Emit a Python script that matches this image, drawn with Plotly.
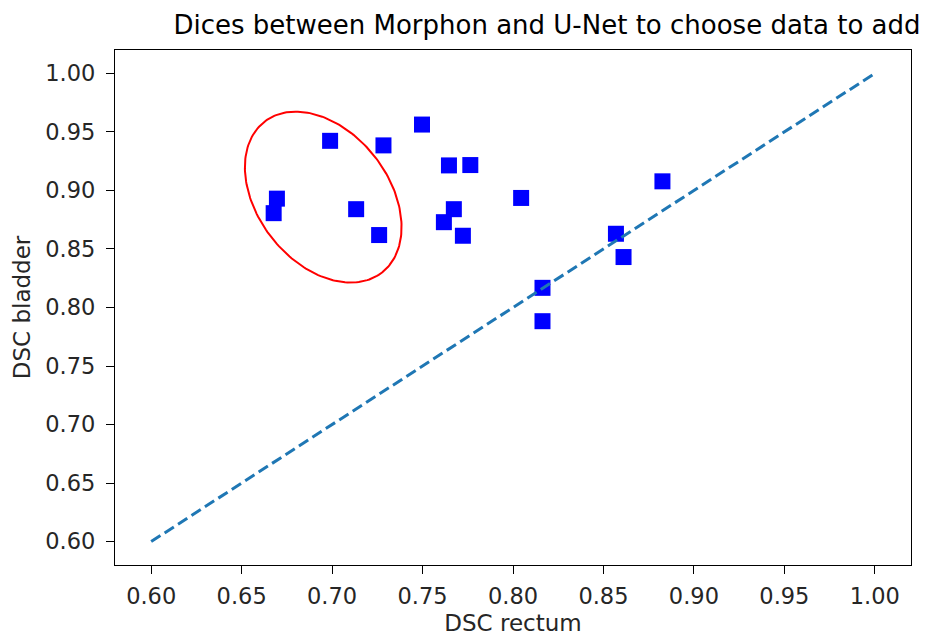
import numpy as np
import plotly.graph_objects as go

# Data
dsc_rectum = [0.6677, 0.6695, 0.6989, 0.7133, 0.7260, 0.7284, 0.7497, 0.7618, 0.7646,
              0.7673, 0.7723, 0.7764, 0.8045, 0.8163, 0.8163, 0.8569, 0.8611, 0.8826]
dsc_bladder = [0.8806, 0.8930, 0.9424, 0.8840, 0.8619, 0.9385, 0.9563, 0.8729, 0.9214,
               0.8840, 0.8613, 0.9217, 0.8936, 0.8168, 0.7883, 0.8630, 0.8431, 0.9078]
diag = [0.6, 1.0]
tick_vals = [0.60, 0.65, 0.70, 0.75, 0.80, 0.85, 0.90, 0.95, 1.00]
tick_text = [f"{v:.2f}" for v in tick_vals]

# Layout geometry
W, H = 925, 636
ml, mr, mt, mb = 115, 14, 50, 71
xr = [0.58, 1.02]
yr = [0.58, 1.02]
sx = (W - ml - mr) / (xr[1] - xr[0])
sy = (H - mt - mb) / (yr[1] - yr[0])

# Highlight ellipse (screen-space semi-axes in px, angle in degrees)
ell_cx, ell_cy = 0.6951, 0.8943
ell_a, ell_b, ell_ang = 95.6, 65.6, -52.0
t = np.linspace(0, 2 * np.pi, 200)
th = np.deg2rad(ell_ang)
ex = ell_cx + (ell_a * np.cos(t) * np.cos(th) - ell_b * np.sin(t) * np.sin(th)) / sx
ey = ell_cy + (ell_a * np.cos(t) * np.sin(th) + ell_b * np.sin(t) * np.cos(th)) / sy

font = "DejaVu Sans"
fig = go.Figure()
fig.add_trace(go.Scatter(x=dsc_rectum, y=dsc_bladder, mode="markers",
                         marker=dict(symbol="square", size=16, color="#0000ff",
                                     line=dict(width=0)),
                         showlegend=False))
fig.add_trace(go.Scatter(x=diag, y=diag, mode="lines",
                         line=dict(color="#1f77b4", width=3, dash="11px,5px"),
                         showlegend=False))
fig.add_trace(go.Scatter(x=ex, y=ey, mode="lines",
                         line=dict(color="#ff0000", width=2), showlegend=False))

axis_common = dict(showgrid=False, zeroline=False, showline=True, linecolor="black",
                   linewidth=1.2, mirror=True, ticks="outside", ticklen=8, tickwidth=1.2,
                   tickcolor="black", tickvals=tick_vals, ticktext=tick_text,
                   automargin=False,
                   tickfont=dict(family=font, size=22.5, color="#262626"))
fig.update_layout(
    width=W, height=H,
    margin=dict(l=ml, r=mr, t=mt, b=mb),
    plot_bgcolor="white", paper_bgcolor="white",
    title=dict(text="Dices between Morphon and U-Net to choose data to add",
               x=547 / W, xanchor="center", y=1 - 25 / H, yanchor="middle",
               font=dict(family=font, size=26, color="black")),
    xaxis=dict(range=xr, ticklabelstandoff=3,
               title=dict(text="DSC rectum", standoff=12,
                          font=dict(family=font, size=23, color="#262626")),
               **axis_common),
    yaxis=dict(range=yr, ticklabelstandoff=6,
               title=dict(text="DSC bladder", standoff=8,
                          font=dict(family=font, size=23, color="#262626")),
               **axis_common),
)
fig.write_html("out.html", config={"displayModeBar": False},
               post_script="document.body.style.margin='0';document.body.style.overflow='hidden';")
